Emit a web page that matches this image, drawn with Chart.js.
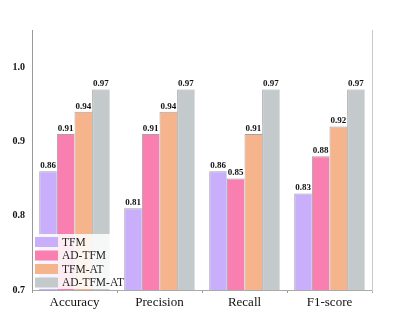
<!DOCTYPE html>
<html><head><meta charset="utf-8">
<script src="https://cdn.jsdelivr.net/npm/chart.js@4.4.0/dist/chart.umd.min.js"></script>
<style>html,body{margin:0;padding:0;background:#fff}#wrap{width:415px;height:318px}</style>
</head><body><div id="wrap"><canvas id="c" width="415" height="318"></canvas></div>
<script>
const categories = ["Accuracy", "Precision", "Recall", "F1-score"];
const seriesNames = ["TFM", "AD-TFM", "TFM-AT", "AD-TFM-AT"];
const tfm = [0.86, 0.81, 0.86, 0.83];
const adTfm = [0.91, 0.91, 0.85, 0.88];
const tfmAt = [0.94, 0.94, 0.91, 0.92];
const adTfmAt = [0.97, 0.97, 0.97, 0.97];
const yTicks = [0.7, 0.8, 0.9, 1.0];
const colors = ["#c9aefb", "#f87fb0", "#f5b48b", "#c4cacb"];
const serif = "'Liberation Serif', 'Times New Roman', serif";

const values = [tfm, adTfm, tfmAt, adTfmAt];
const datasets = seriesNames.map((n, i) => ({
  label: n, data: values[i], backgroundColor: colors[i],
  borderColor: 'rgba(90,90,90,0.55)', borderWidth: {left: 1, top: 1, right: 0, bottom: 0},
  borderSkipped: 'bottom',
  categoryPercentage: 0.83, barPercentage: 1.0
}));

const extras = {
  id: 'extras',
  afterDatasetsDraw(chart) {
    const ctx = chart.ctx, a = chart.chartArea;
    ctx.save();
    ctx.font = "bold 9px " + serif;
    ctx.textAlign = 'center';
    ctx.textBaseline = 'bottom';
    chart.data.datasets.forEach((ds, i) => {
      chart.getDatasetMeta(i).data.forEach((bar, j) => {
        const t = ds.data[j].toFixed(2);
        const w = ctx.measureText(t).width;
        ctx.fillStyle = 'rgba(255,255,255,0.9)';
        ctx.fillRect(bar.x - w / 2 - 1, bar.y - 10, w + 2, 9);
        ctx.fillStyle = '#111';
        ctx.fillText(t, bar.x, bar.y - 1);
      });
    });
    ctx.strokeStyle = '#c8c8c8';
    ctx.lineWidth = 1;
    ctx.beginPath();
    ctx.moveTo(Math.round(a.right) + 0.5, a.top);
    ctx.lineTo(Math.round(a.right) + 0.5, a.bottom + 2);
    ctx.stroke();
    const lx = a.left + 1, ly = a.bottom - 56;
    ctx.fillStyle = 'rgba(255,255,255,0.85)';
    ctx.fillRect(lx, ly, 90, 55);
    ctx.font = "11.5px " + serif;
    ctx.textAlign = 'left';
    ctx.textBaseline = 'middle';
    chart.data.datasets.forEach((ds, i) => {
      const y = ly + 3 + i * 13.5;
      ctx.fillStyle = ds.backgroundColor;
      ctx.fillRect(lx + 2, y, 23, 10);
      ctx.fillStyle = '#222';
      ctx.fillText(ds.label, lx + 29, y + 5.5);
    });
    ctx.restore();
  }
};

new Chart(document.getElementById('c'), {
  type: 'bar',
  data: { labels: categories, datasets },
  options: {
    responsive: false, animation: false,
    layout: { padding: { left: 0, right: 43, top: 30, bottom: 0 } },
    plugins: { legend: { display: false }, tooltip: { enabled: false } },
    scales: {
      x: {
        grid: { display: true, drawOnChartArea: false, offset: true, tickLength: 3, color: '#999' },
        border: { display: true, color: '#aaa' },
        ticks: { color: '#111', font: { family: serif, size: 13 }, padding: 2 },
        afterFit(s) { s.height = 28; }
      },
      y: {
        min: 0.7, max: 1.05,
        grid: { display: false, drawTicks: false },
        border: { display: true, color: '#999' },
        afterBuildTicks(s) { s.ticks = yTicks.map(v => ({ value: v })); },
        ticks: { color: '#111', font: { family: serif, size: 10, weight: 'bold' }, padding: 7,
          callback: v => Number(v).toFixed(1) },
        afterFit(s) { s.width = 32; }
      }
    }
  },
  plugins: [extras]
});
</script></body></html>
